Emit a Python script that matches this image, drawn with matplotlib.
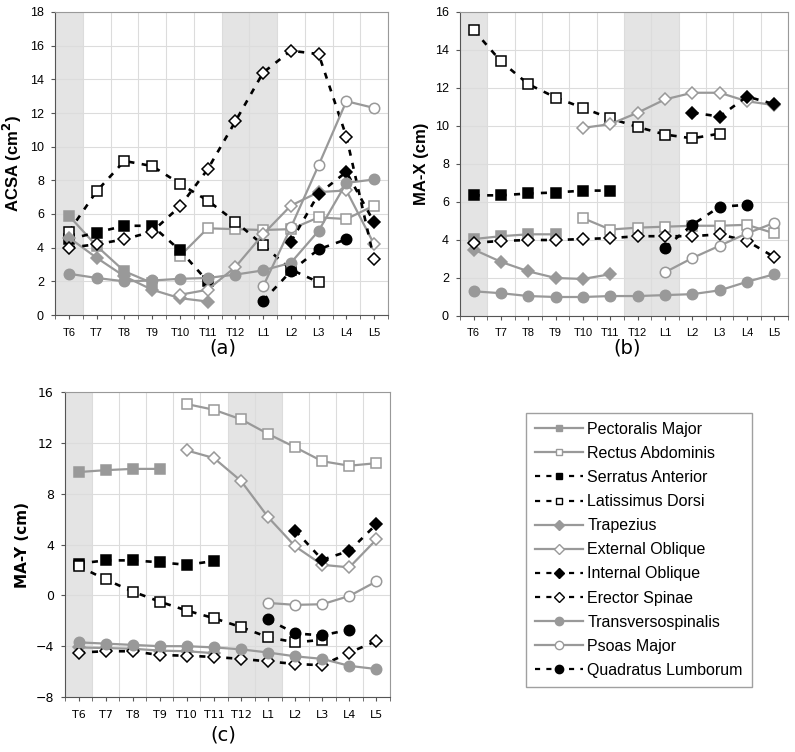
import numpy as np
import matplotlib
matplotlib.use("Agg")
import matplotlib.pyplot as plt
from matplotlib.lines import Line2D

nan = np.nan
levels = ["T6", "T7", "T8", "T9", "T10", "T11", "T12", "L1", "L2", "L3", "L4", "L5"]
muscles = ["Pectoralis Major", "Rectus Abdominis", "Serratus Anterior", "Latissimus Dorsi",
           "Trapezius", "External Oblique", "Internal Oblique", "Erector Spinae",
           "Transversospinalis", "Psoas Major", "Quadratus Lumborum"]

# (a) ACSA (cm^2)
acsa_pm = [5.9, 4.1, 2.6, 1.9, nan, nan, nan, nan, nan, nan, nan, nan]
acsa_ra = [nan, nan, nan, nan, 3.5, 5.15, 5.1, 5.05, 5.1, 5.8, 5.7, 6.5]
acsa_sa = [4.5, 4.9, 5.3, 5.3, 3.85, 2.0, nan, nan, nan, nan, nan, nan]
acsa_ld = [4.95, 7.35, 9.15, 8.85, 7.8, 6.8, 5.55, 4.15, 2.7, 1.95, nan, nan]
acsa_tr = [4.6, 3.4, 2.3, 1.5, 1.0, 0.8, nan, nan, nan, nan, nan, nan]
acsa_eo = [nan, nan, nan, nan, 1.2, 1.5, 2.85, 4.8, 6.5, 7.3, 7.4, 4.2]
acsa_io = [nan, nan, nan, nan, nan, nan, nan, nan, 4.35, 7.2, 8.5, 5.5]
acsa_es = [4.0, 4.2, 4.5, 4.95, 6.45, 8.65, 11.5, 14.4, 15.7, 15.5, 10.6, 3.3]
acsa_ts = [2.45, 2.2, 2.0, 2.05, 2.15, 2.2, 2.4, 2.65, 3.1, 5.0, 7.85, 8.05]
acsa_ps = [nan, nan, nan, nan, nan, nan, nan, 1.7, 5.2, 8.9, 12.7, 12.3]
acsa_ql = [nan, nan, nan, nan, nan, nan, nan, 0.85, 2.6, 3.9, 4.5, nan]

# (b) MA-X (cm)
max_pm = [4.05, 4.2, 4.3, 4.3, nan, nan, nan, nan, nan, nan, nan, nan]
max_ra = [nan, nan, nan, nan, 5.15, 4.55, 4.65, 4.7, 4.75, 4.75, 4.8, 4.35]
max_sa = [6.35, 6.35, 6.45, 6.5, 6.6, 6.6, nan, nan, nan, nan, nan, nan]
max_ld = [15.05, 13.4, 12.2, 11.5, 10.95, 10.4, 9.95, 9.55, 9.35, 9.6, nan, nan]
max_tr = [3.5, 2.85, 2.35, 2.0, 1.95, 2.2, nan, nan, nan, nan, nan, nan]
max_eo = [nan, nan, nan, nan, 9.9, 10.1, 10.7, 11.4, 11.75, 11.75, 11.3, 11.1]
max_io = [nan, nan, nan, nan, nan, nan, nan, nan, 10.7, 10.5, 11.55, 11.15]
max_es = [3.85, 3.95, 4.0, 4.0, 4.05, 4.1, 4.2, 4.2, 4.2, 4.3, 3.95, 3.1]
max_ts = [1.3, 1.2, 1.05, 1.0, 1.0, 1.05, 1.05, 1.1, 1.15, 1.35, 1.8, 2.2]
max_ps = [nan, nan, nan, nan, nan, nan, nan, 2.3, 3.05, 3.7, 4.35, 4.9]
max_ql = [nan, nan, nan, nan, nan, nan, nan, 3.6, 4.8, 5.75, 5.85, nan]

# (c) MA-Y (cm)
may_pm = [9.7, 9.85, 9.95, 9.95, nan, nan, nan, nan, nan, nan, nan, nan]
may_ra = [nan, nan, nan, nan, 15.05, 14.6, 13.85, 12.7, 11.65, 10.55, 10.2, 10.4]
may_sa = [2.5, 2.75, 2.75, 2.6, 2.4, 2.7, nan, nan, nan, nan, nan, nan]
may_ld = [2.3, 1.25, 0.3, -0.5, -1.2, -1.8, -2.5, -3.3, -3.7, -3.5, nan, nan]
may_tr = [-4.1, -4.15, -4.2, -4.35, -4.4, -4.55, nan, nan, nan, nan, nan, nan]
may_eo = [nan, nan, nan, nan, 11.4, 10.8, 9.0, 6.15, 3.85, 2.4, 2.2, 4.4]
may_io = [nan, nan, nan, nan, nan, nan, nan, nan, 5.1, 2.8, 3.5, 5.6]
may_es = [-4.5, -4.4, -4.4, -4.7, -4.75, -4.85, -5.0, -5.2, -5.4, -5.5, -4.5, -3.6]
may_ts = [-3.7, -3.8, -3.9, -4.0, -4.0, -4.1, -4.25, -4.5, -4.8, -5.0, -5.55, -5.8]
may_ps = [nan, nan, nan, nan, nan, nan, nan, -0.6, -0.75, -0.7, -0.05, 1.1]
may_ql = [nan, nan, nan, nan, nan, nan, nan, -1.9, -3.0, -3.15, -2.7, nan]

GRAY = "#999999"
BLACK = "#000000"
DASH = (0, (2.3, 2.8))
# style per muscle: marker, filled, color, dashed
styles = [("s", True, GRAY, False), ("s", False, GRAY, False),
          ("s", True, BLACK, True), ("s", False, BLACK, True),
          ("D", True, GRAY, False), ("D", False, GRAY, False),
          ("D", True, BLACK, True), ("D", False, BLACK, True),
          ("o", True, GRAY, False), ("o", False, GRAY, False),
          ("o", True, BLACK, True)]


def draw_series(ax, series_list):
    x = np.arange(len(levels))
    for vals, (mk, filled, col, dashed) in zip(series_list, styles):
        ms = {"s": 6.5, "D": 6.0, "o": 7.5}[mk]
        ax.plot(x, vals, marker=mk, ms=ms, color=col,
                mfc=col if filled else "white", mec=col, mew=1.1,
                lw=1.9 if dashed else 1.6,
                linestyle=DASH if dashed else "-",
                dash_capstyle="butt")


def style_axes(ax, ylim, ystep, ylabel, tickfont, labelfont, labelsize):
    n = len(levels)
    ax.set_xlim(-0.5, n - 0.5)
    ax.set_ylim(*ylim)
    ax.axvspan(-0.5, 0.5, color="#e4e4e4", zorder=0, lw=0)
    ax.axvspan(5.5, 7.5, color="#e4e4e4", zorder=0, lw=0)
    ax.set_xticks(np.arange(n))
    ax.set_xticklabels(levels, family=tickfont, fontsize=8)
    ax.set_xticks(np.arange(n + 1) - 0.5, minor=True)
    ax.set_yticks(np.arange(ylim[0], ylim[1] + 0.1, ystep))
    for lab in ax.get_yticklabels():
        lab.set_family(tickfont)
        lab.set_fontsize(9)
    ax.grid(True, which="minor", axis="x", color="#dcdcdc", lw=0.8, zorder=0.5)
    ax.grid(True, which="major", axis="y", color="#dcdcdc", lw=0.8, zorder=0.5)
    ax.set_axisbelow(True)
    ax.tick_params(axis="both", which="both", direction="out", length=3,
                   color="#555555")
    ax.tick_params(axis="x", which="major", pad=6)
    ax.tick_params(axis="y", pad=5)
    for side in ["left", "bottom"]:
        ax.spines[side].set_color("#555555")
    for side in ["top", "right"]:
        ax.spines[side].set_color("#999999")
    ax.set_ylabel(ylabel, family=labelfont, fontsize=labelsize,
                  fontweight="bold", labelpad=4)


W, H = 795, 752
fig = plt.figure(figsize=(W / 100, H / 100), dpi=100)


def add_ax(l, r, t, b):
    return fig.add_axes([l / W, 1 - b / H, (r - l) / W, (b - t) / H])


ax_a = add_ax(55, 388, 12, 315)
ax_b = add_ax(460, 788, 12, 316)
ax_c = add_ax(65, 390, 392, 697)

draw_series(ax_a, [acsa_pm, acsa_ra, acsa_sa, acsa_ld, acsa_tr, acsa_eo,
                   acsa_io, acsa_es, acsa_ts, acsa_ps, acsa_ql])
draw_series(ax_b, [max_pm, max_ra, max_sa, max_ld, max_tr, max_eo,
                   max_io, max_es, max_ts, max_ps, max_ql])
draw_series(ax_c, [may_pm, may_ra, may_sa, may_ld, may_tr, may_eo,
                   may_io, may_es, may_ts, may_ps, may_ql])

style_axes(ax_a, (0, 18), 2, "ACSA (cm$^\\mathbf{2}$)", "Liberation Sans", "Liberation Sans", 12)
style_axes(ax_b, (0, 16), 2, "MA-X (cm)", "Liberation Sans", "Liberation Sans", 12)
style_axes(ax_c, (-8, 16), 4, "MA-Y (cm)", "DejaVu Sans", "DejaVu Sans", 11)

fig.text(223 / W, 1 - 348 / H, "(a)", ha="center", va="center", fontsize=14, family="DejaVu Sans")
fig.text(627 / W, 1 - 348 / H, "(b)", ha="center", va="center", fontsize=14, family="DejaVu Sans")
fig.text(223 / W, 1 - 735 / H, "(c)", ha="center", va="center", fontsize=14, family="DejaVu Sans")

handles = []
for (mk, filled, col, dashed) in styles:
    handles.append(Line2D([], [], marker=mk, ms={"s": 5, "D": 5, "o": 6}[mk], color=col,
                          mfc=col if filled else "white", mec=col, mew=1.0,
                          lw=1.6, linestyle=DASH if dashed else "-"))
leg = fig.legend(handles, muscles, loc="upper left",
                 bbox_to_anchor=(526 / W, 1 - 413 / H), bbox_transform=fig.transFigure,
                 prop={"family": "Liberation Sans", "size": 11.5},
                 frameon=True, fancybox=False, edgecolor="#888888",
                 handlelength=3.0, handletextpad=0.3, labelspacing=0.57,
                 borderpad=0.55, borderaxespad=0)
leg.get_frame().set_linewidth(1.0)

fig.savefig("out.png", dpi=100)
